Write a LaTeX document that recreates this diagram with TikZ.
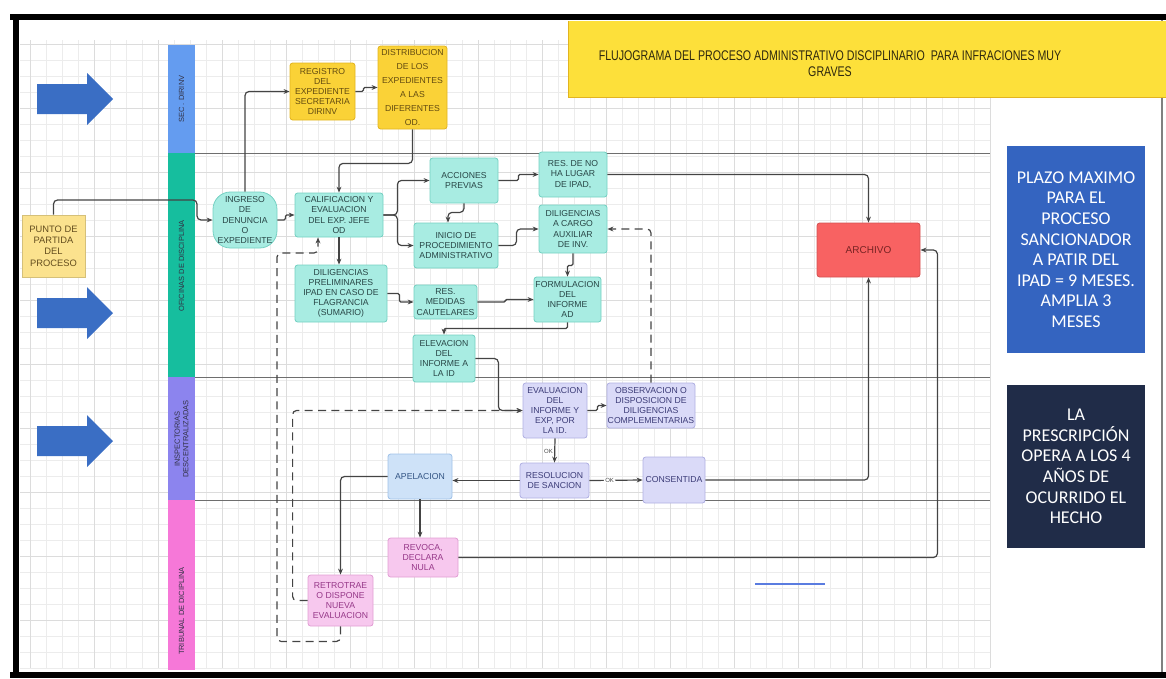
\documentclass[tikz,border=0pt]{standalone}
\usepackage{tikz}
\usetikzlibrary{arrows.meta}
\usepackage{xcolor}
\usepackage{fontspec}
\setmainfont{Liberation Sans}
\newfontfamily\calibfont{Carlito}
\newfontfamily\narrowfont[FakeStretch=0.76]{Liberation Sans}

\definecolor{gridc}{RGB}{236,236,236}
\definecolor{gridmaj}{RGB}{220,220,220}
\definecolor{lnsec}{RGB}{100,156,240}
\definecolor{lnofi}{RGB}{22,190,158}
\definecolor{lnins}{RGB}{140,132,238}
\definecolor{lntri}{RGB}{246,120,216}
\definecolor{bigarrow}{RGB}{58,110,196}
\definecolor{tealfill}{RGB}{168,236,226}
\definecolor{tealline}{RGB}{116,208,194}
\definecolor{tealtext}{RGB}{40,70,70}
\definecolor{yelfill}{RGB}{250,210,55}
\definecolor{yelline}{RGB}{226,180,32}
\definecolor{yeltext}{RGB}{100,76,16}
\definecolor{lilfill}{RGB}{218,218,248}
\definecolor{lilline}{RGB}{176,176,226}
\definecolor{liltext}{RGB}{60,60,120}
\definecolor{pinkfill}{RGB}{247,200,238}
\definecolor{pinkline}{RGB}{226,158,212}
\definecolor{pinktext}{RGB}{150,56,136}
\definecolor{apelfill}{RGB}{206,226,248}
\definecolor{apelline}{RGB}{160,194,232}
\definecolor{apeltext}{RGB}{50,84,132}
\definecolor{stickyfill}{RGB}{251,226,142}
\definecolor{stickytext}{RGB}{100,78,30}
\definecolor{archfill}{RGB}{248,98,98}
\definecolor{archtext}{RGB}{120,36,36}
\definecolor{titlefill}{RGB}{253,224,58}
\definecolor{titletext}{RGB}{46,40,14}
\definecolor{plazoblue}{RGB}{52,100,192}
\definecolor{navybox}{RGB}{32,44,72}
\definecolor{connc}{RGB}{68,68,68}
\definecolor{strayblue}{RGB}{90,124,224}

\tikzset{
    sz/.style 2 args={minimum width=#1*0.75pt,minimum height=#2*0.75pt},
    box/.style={draw,rounded corners=2pt,inner sep=0.5pt,align=center,line width=0.6pt,font=\fontsize{6.5}{7.6}\selectfont},
    tealbox/.style={box,draw=tealline,fill=tealfill,text=tealtext},
    yellowbox/.style={box,draw=yelline,fill=yelfill,text=yeltext},
    lilacbox/.style={box,draw=lilline,fill=lilfill,text=liltext},
    pinkbox/.style={box,draw=pinkline,fill=pinkfill,text=pinktext},
    conn/.style={draw=connc,line width=0.9pt,rounded corners=3pt,-{Stealth[length=4.5pt,width=3.6pt]}},
    jog/.style={conn,rounded corners=1pt},
    dashconn/.style={conn,dash pattern=on 6pt off 4pt},
    oklabel/.style={font=\fontsize{4.5}{5}\selectfont,text=connc,inner sep=1pt},
    lanelabel/.style={rotate=90,align=center,font=\fontsize{5.6}{6.4}\selectfont,text={rgb,255:red,50;green,50;blue,70}},
    laneline/.style={draw={rgb,255:red,110;green,110;blue,110},line width=0.6pt},
    notebox/.style={align=center,text=white,font=\calibfont\fontsize{13.5}{15.4}\selectfont,inner sep=0pt}
}

\begin{document}
\begin{tikzpicture}[x=0.75pt,y=0.75pt,yscale=-1,xscale=1]
\useasboundingbox (0,0) rectangle (1166,678);

%Shape: Grid
\foreach \gx in {30,46,...,990} \draw[gridc,line width=0.4pt] (\gx,40) -- (\gx,668);
\foreach \gy in {44,60,...,668} \draw[gridc,line width=0.4pt] (20,\gy) -- (990,\gy);
\foreach \gx in {30,94,...,990} \draw[gridmaj,line width=0.5pt] (\gx,40) -- (\gx,668);
\foreach \gy in {44,108,...,668} \draw[gridmaj,line width=0.5pt] (20,\gy) -- (990,\gy);

%Shape: Frame
\draw[black,line width=5pt] (10,17) -- (1166,17);
\draw[black,line width=5pt] (16,14) -- (16,678);
\draw[black,line width=5pt] (10,675) -- (1166,675);
\draw[gray,line width=0.8pt] (1162,20) -- (1162,672);

%Shape: Title banner
\fill[titlefill] (568,21) rectangle (1170,97);
\draw[yelline,line width=0.5pt] (1170,97) -- (568,97) -- (568,21);
% Text Node
\node[font=\narrowfont\fontsize{10.5}{12}\selectfont,text=titletext,align=center] (title) at (830,64)
  {FLUJOGRAMA DEL PROCESO ADMINISTRATIVO DISCIPLINARIO\ \ PARA INFRACIONES MUY\\GRAVES};

%Shape: Lanes
\fill[lnsec] (168,45) rectangle (195,153);
\fill[lnofi] (168,153) rectangle (195,377);
\fill[lnins] (168,377) rectangle (195,500);
\fill[lntri] (168,500) rectangle (195,670);
\draw[laneline] (195,153) -- (990,153);
\draw[laneline] (195,377) -- (990,377);
\draw[laneline] (195,500) -- (990,500);
\node[lanelabel] (labsec) at (181.5,99) {SEC . DIRINV};
\node[lanelabel] (labofi) at (181.5,266) {OFICINAS DE DISCIPLINA};
\node[lanelabel] (labins) at (181.5,439) {INSPECTORIAS\\DESCENTRALIZADAS};
\node[lanelabel] (labtri) at (181.5,611) {TRIBUNAL DE DICIPLINA};

%Shape: Block arrows
\foreach \c in {99,313,441} {
  \fill[bigarrow] (37,\c-15) -- (87,\c-15) -- (87,\c-26) -- (113,\c) -- (87,\c+26) -- (87,\c+15) -- (37,\c+15) -- cycle;
}

% Nodes
\node[box,draw=stickyfill!85!black,fill=stickyfill,text=stickytext,rounded corners=0pt,font=\fontsize{7}{8.5}\selectfont,sz={63}{62}] (punto) at (53.5,246) {PUNTO DE\\PARTIDA\\DEL\\PROCESO};
\node[tealbox,rounded corners=13pt,sz={64}{56}] (ingreso) at (245,220) {INGRESO\\DE\\DENUNCIA\\O\\EXPEDIENTE};
\node[yellowbox,sz={65}{57}] (registro) at (322.5,91.5) {REGISTRO\\DEL\\EXPEDIENTE\\SECRETARIA\\DIRINV};
\node[yellowbox,font=\fontsize{6.5}{10.6}\selectfont,sz={69}{83}] (distrib) at (412.5,87.5) {DISTRIBUCION\\DE LOS\\EXPEDIENTES\\A LAS\\DIFERENTES\\OD.};
\node[tealbox,sz={88}{44}] (calif) at (339,215) {CALIFICACION Y\\EVALUACION\\DEL EXP. JEFE\\OD};
\node[tealbox,sz={68}{45}] (acciones) at (464,180.5) {ACCIONES\\PREVIAS};
\node[tealbox,sz={68}{45}] (resno) at (573,174.5) {RES. DE NO\\HA LUGAR\\DE IPAD,};
\node[tealbox,sz={84}{45}] (inicio) at (456,245.5) {INICIO DE\\PROCEDIMIENTO\\ADMINISTRATIVO};
\node[tealbox,sz={68}{48}] (dilcargo) at (573,229) {DILIGENCIAS\\A CARGO\\AUXILIAR\\DE INV.};
\node[tealbox,sz={92}{57}] (dilprel) at (341,293.5) {DILIGENCIAS\\PRELIMINARES\\IPAD EN CASO DE\\FLAGRANCIA\\(SUMARIO)};
\node[tealbox,sz={63}{34}] (medidas) at (445.5,302) {RES.\\MEDIDAS\\CAUTELARES};
\node[tealbox,sz={67}{45}] (formul) at (567.5,299.5) {FORMULACION\\DEL\\INFORME\\AD};
\node[tealbox,sz={62}{47}] (elevac) at (444,358.5) {ELEVACION\\DEL\\INFORME A\\LA ID};
\node[lilacbox,sz={64}{55}] (evalua) at (555,410.5) {EVALUACION\\DEL\\INFORME Y\\EXP, POR\\LA ID.};
\node[lilacbox,sz={88}{45}] (observ) at (651,405.5) {OBSERVACION O\\DISPOSICION DE\\DILIGENCIAS\\COMPLEMENTARIAS};
\node[lilacbox,sz={69}{35}] (resol) at (554.5,480.5) {RESOLUCION\\DE SANCION};
\node[lilacbox,sz={62}{46}] (consent) at (674,480) {CONSENTIDA};
\node[box,draw=apelline,fill=apelfill,text=apeltext,sz={64}{45}] (apel) at (420,476.5) {APELACION};
\node[pinkbox,sz={70}{39}] (revoca) at (423,557.5) {REVOCA,\\DECLARA\\NULA};
\node[pinkbox,sz={65}{51}] (retro) at (340.5,600.5) {RETROTRAE\\O DISPONE\\NUEVA\\EVALUACION};
\node[box,draw=archfill!85!black,fill=archfill,text=archtext,font=\fontsize{7.5}{9}\selectfont,sz={103}{54}] (archivo) at (868.5,250) {ARCHIVO};
\node[notebox,fill=plazoblue,sz={138}{207}] (plazo) at (1076,249.5) {PLAZO MAXIMO\\PARA EL\\PROCESO\\SANCIONADOR\\A PATIR DEL\\IPAD = 9 MESES.\\AMPLIA 3\\MESES};
\node[notebox,fill=navybox,sz={138}{163}] (prescrip) at (1076,466.5) {LA\\PRESCRIPCIÓN\\OPERA A LOS 4\\AÑOS DE\\OCURRIDO EL\\HECHO};

% Connectors
\draw[conn] (punto.north) |- (197,200) |- (ingreso.west);
\draw[conn] (ingreso.north) |- (registro.west);
\draw[jog] (registro.east) -- ++(8,0) |- (distrib.west);
\draw[conn] (distrib.south) -- ++(0,34) -| (calif.north);
\draw[jog] (ingreso.east) -- ++(8,0) |- (calif.west);
\draw[conn] (calif.east) -- ++(14,0) |- (acciones.west);
\draw[conn] (calif.east) -- ++(14,0) |- (inicio.west);
\draw[conn] (acciones.south) -- ++(0,9) -| ([xshift=-6pt]inicio.north);
\draw[jog] (acciones.east) -- ++(20,0) |- (resno.west);
\draw[conn] (resno.east) -| (archivo.north);
\draw[conn] (inicio.east) -- ++(18,0) |- (dilcargo.west);
\draw[jog] (dilcargo.south) -- ++(0,12) -| (formul.north);
\draw[conn] (calif.south) -- (calif.south |- dilprel.north);
\draw[jog] (dilprel.east) -- ++(12,0) |- (medidas.west);
\draw[jog] (medidas.east) -- ++(28,0) |- (formul.west);
\draw[jog] (formul.south) -- ++(0,6) -| (elevac.north);
\draw[conn] (elevac.east) -- ++(23,0) |- (evalua.west);
\draw[jog] (evalua.east) -- ++(10,0) |- (observ.west);
\draw[dashconn] (observ.north) |- (dilcargo.east);
\draw[conn] (evalua.south) -- node[oklabel,left,pos=0.55] {OK} (resol.north);
\draw[conn] (resol.east) -- node[oklabel,fill=white,pos=0.38] {OK} (consent.west);
\draw[conn] (resol.west) -- (resol.west -| apel.east);
\draw[conn] (consent.east) -| (archivo.south);
\draw[conn] (apel.south) -- (apel.south |- revoca.north);
\draw[conn] (apel.west) -| (retro.north);
\draw[conn] (revoca.east) -| ([xshift=12.75pt]archivo.east) -- (archivo.east);
\draw[dashconn] (retro.south) -- ++(0,15) -| (277,253) -| ([xshift=-15.75pt]calif.south);
\draw[dashconn] (retro.west) -- ++(-15,0) |- (evalua.west);

%Shape: Stray line
\draw[strayblue,line width=0.8pt] (755,584) -- (825,584);
\end{tikzpicture}
\end{document}
